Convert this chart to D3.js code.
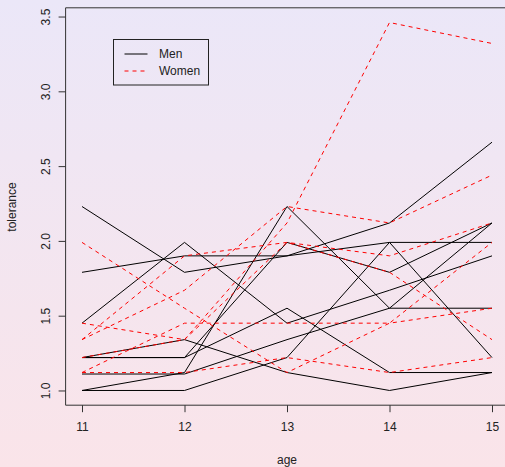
<!DOCTYPE html>
<html>
<head>
<meta charset="utf-8">
<script src="https://cdn.jsdelivr.net/npm/d3@7"></script>
<style>
  html, body { margin: 0; padding: 0; overflow: hidden; }
  text { font-family: "Liberation Sans", Arial, sans-serif; fill: #222; }
</style>
</head>
<body>
<div class="chart"></div>
<script>
var ages = [11, 12, 13, 14, 15];
var yTicks = [1.0, 1.5, 2.0, 2.5, 3.0, 3.5];

// tolerance per subject, ages 11..15
var men = [
  [2.23, 1.79, 1.90, 2.12, 2.66],
  [1.22, 1.22, 1.55, 1.12, 1.12],
  [1.45, 1.99, 1.45, 1.67, 1.90],
  [1.79, 1.90, 1.90, 1.99, 1.99],
  [1.22, 1.34, 1.12, 1.00, 1.12],
  [1.00, 1.00, 1.22, 1.99, 1.22],
  [1.22, 1.22, 1.99, 1.79, 2.12],
  [1.00, 1.12, 2.23, 1.55, 1.55],
  [1.11, 1.11, 1.34, 1.55, 2.12]
];
var women = [
  [1.12, 1.45, 1.45, 1.45, 1.99],
  [1.45, 1.34, 1.99, 1.79, 1.34],
  [1.34, 1.67, 2.23, 2.12, 2.44],
  [1.12, 1.12, 1.22, 1.12, 1.22],
  [1.99, 1.55, 1.12, 1.45, 1.55],
  [1.22, 1.34, 2.12, 3.46, 3.32],
  [1.34, 1.90, 1.99, 1.90, 2.12]
];

var width = 505, height = 467;
var pLeft = 65.6, pRight = 508.4, pTop = 7.8, pBottom = 405.2;

var svg = d3.select(".chart").append("svg")
    .attr("width", width)
    .attr("height", height);

var grad = svg.append("defs").append("linearGradient")
    .attr("id", "bg")
    .attr("x1", 0).attr("y1", 0).attr("x2", 0).attr("y2", 1);
grad.append("stop").attr("offset", "0%").attr("stop-color", "#ebe7f8");
grad.append("stop").attr("offset", "100%").attr("stop-color", "#fae4e9");

svg.append("rect")
    .attr("width", width).attr("height", height)
    .style("fill", "url(#bg)");

// R style 4% extension
var x = d3.scaleLinear().domain([10.84, 15.16]).range([pLeft, pRight]);
var y = d3.scaleLinear().domain([0.9016, 3.5584]).range([pBottom, pTop]);

var line = d3.line()
    .x(function(d, i){ return x(ages[i]); })
    .y(function(d){ return y(d); });

svg.selectAll("path.men")
    .data(men)
    .enter()
    .append("path")
    .attr("class", "men")
    .attr("d", line)
    .style("fill", "none")
    .style("stroke", "#000")
    .style("stroke-width", 1);

svg.selectAll("path.women")
    .data(women)
    .enter()
    .append("path")
    .attr("class", "women")
    .attr("d", line)
    .style("fill", "none")
    .style("stroke", "#ff0000")
    .style("stroke-width", 1)
    .style("stroke-dasharray", "4,4");

// box (right side falls outside the window)
svg.append("path")
    .attr("d", "M" + pRight + "," + pTop + "H" + pLeft + "V" + pBottom + "H" + pRight)
    .style("fill", "none")
    .style("stroke", "#333")
    .style("stroke-width", 1);

var xAxis = svg.append("g")
    .attr("transform", "translate(0," + pBottom + ")")
    .call(d3.axisBottom(x).tickValues(ages).tickFormat(d3.format("d")).tickSize(7).tickPadding(10));
xAxis.select(".domain").remove();
xAxis.selectAll("line").style("stroke", "#333");
xAxis.selectAll("text").style("font-size", "12px").style("fill", "#222")
    .style("font-family", "Liberation Sans, Arial, sans-serif");

var yAxis = svg.append("g")
    .attr("transform", "translate(" + pLeft + ",0)")
    .call(d3.axisLeft(y).tickValues(yTicks).tickFormat(d3.format(".1f")).tickSize(7));
yAxis.select(".domain").remove();
yAxis.selectAll("line").style("stroke", "#333");
yAxis.selectAll("text")
    .attr("x", null)
    .attr("transform", "translate(-20,0) rotate(-90)")
    .attr("text-anchor", "middle")
    .attr("dy", "0.35em")
    .style("font-size", "12px").style("fill", "#222")
    .style("font-family", "Liberation Sans, Arial, sans-serif");

svg.append("text")
    .attr("x", 287).attr("y", 464)
    .attr("text-anchor", "middle")
    .style("font-size", "12px")
    .text("age");

svg.append("text")
    .attr("transform", "translate(16,207) rotate(-90)")
    .attr("text-anchor", "middle")
    .style("font-size", "12px")
    .text("tolerance");

// legend
var legend = svg.append("g").attr("transform", "translate(113.5,39.5)");
legend.append("rect")
    .attr("width", 95).attr("height", 45.5)
    .style("fill", "none").style("stroke", "#222");
var items = [
  {label: "Men", color: "#000", dash: null},
  {label: "Women", color: "#ff0000", dash: "4,4"}
];
var li = legend.selectAll("g.item")
    .data(items)
    .enter()
    .append("g")
    .attr("transform", function(d, i){ return "translate(0," + (14.5 + i * 17) + ")"; });
li.append("line")
    .attr("x1", 11).attr("x2", 34)
    .style("stroke", function(d){ return d.color; })
    .style("stroke-dasharray", function(d){ return d.dash; });
li.append("text")
    .attr("x", 45.5).attr("dy", "0.35em")
    .style("font-size", "12px")
    .text(function(d){ return d.label; });
</script>
</body>
</html>
